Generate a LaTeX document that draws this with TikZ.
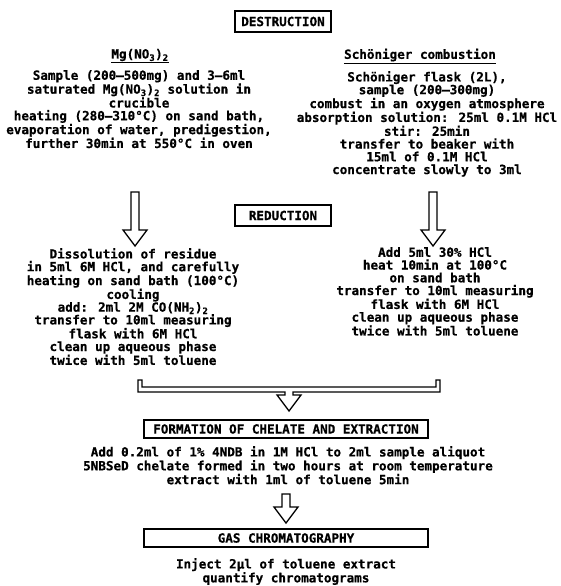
\documentclass[tikz,border=0pt]{standalone}
\usepackage{fontspec}
\newfontfamily\reffont[BoldFeatures={FakeBold=0.6}]{DejaVu Sans Mono}
\usetikzlibrary{calc}
\tikzset{
  txt/.style={font=\reffont\bfseries\fontsize{12.6}{12.75}\selectfont, align=center, inner sep=0pt},
  titlebox/.style={txt, draw, line width=1.5pt, minimum width=96pt, minimum height=21pt},
  widebox/.style={txt, draw, line width=1.3pt, minimum width=284pt, minimum height=18pt},
  blockarrow/.style={draw, line width=1.3pt, line join=miter, fill=white},
  uline/.style={line width=1.1pt},
}
\newcommand\blockarrowdown[4]{%
  \draw[blockarrow] ($(#1)+(-#3,0)$) -- ($(#1)+(#3,0)$) -- ($(#2)+(#3,-16)$) -- ($(#2)+(#4,-16)$) -- (#2) -- ($(#2)+(-#4,-16)$) -- ($(#2)+(-#3,-16)$) -- cycle;}
\begin{document}
\begin{tikzpicture}[x=1pt,y=-1pt]
\useasboundingbox[fill=white] (0,0) rectangle (560,586);

\node[titlebox] (destr) at (283,21.5) {DESTRUCTION};

\node[txt] (hmg) at (140,55) {Mg(NO\textsubscript{3})\textsubscript{2}};
\draw[uline] ($(hmg.south west)+(0,1.5)$) -- ($(hmg.south east)+(0,1.5)$);
\node[txt] (hsch) at (420,55) {Schöniger combustion};
\draw[uline] ($(hsch.south west)+(0,2)$) -- ($(hsch.south east)+(0,2)$);

\node[txt, anchor=north] (l1) at (139,70) {Sample (200–500mg) and 3–6ml\\
saturated Mg(NO\textsubscript{3})\textsubscript{2} solution in\\
crucible\\
heating (280–310°C) on sand bath,\\
evaporation of water, predigestion,\\
further 30min at 550°C in oven};

\node[txt, anchor=north] (r1) at (427,71) {Schöniger flask (2L),\\
sample (200–300mg)\\
combust in an oxygen atmosphere\\
absorption solution: 25ml 0.1M HCl\\
stir: 25min\\
transfer to beaker with\\
15ml of 0.1M HCl\\
concentrate slowly to 3ml};

\coordinate (aLtop) at (135,192);
\coordinate (aLtip) at (135,246);
\coordinate (aRtop) at (433,192);
\coordinate (aRtip) at (433,246);
\blockarrowdown{aLtop}{aLtip}{4}{12}
\blockarrowdown{aRtop}{aRtip}{4}{12}

\node[titlebox] (red) at (283,215.5) {REDUCTION};

\node[txt, anchor=north] (l2) at (133,248) {Dissolution of residue\\
in 5ml 6M HCl, and carefully\\
heating on sand bath (100°C)\\
cooling\\
add: 2ml 2M CO(NH\textsubscript{2})\textsubscript{2}\\
transfer to 10ml measuring\\
flask with 6M HCl\\
clean up aqueous phase\\
twice with 5ml toluene};

\node[txt, anchor=north] (r2) at (435,247) {Add 5ml 30\% HCl\\
heat 10min at 100°C\\
on sand bath\\
transfer to 10ml measuring\\
flask with 6M HCl\\
clean up aqueous phase\\
twice with 5ml toluene};

% collecting bracket with arrow
\coordinate (brL) at (138,380);
\coordinate (brR) at (440,380);
\coordinate (brTip) at (289,411);
\draw[blockarrow] (brL) -- ++(0,12) -- (285,392) -- (285,395) -- (277,395) -- (brTip) -- (301,395) -- (293,395) -- (293,392) -- ($(brR)+(0,12)$) -- (brR) -- ++(-4,0) -- ++(0,7) -- (142,387) -- (142,380) -- cycle;

\node[widebox] (form) at (286,429) {FORMATION OF CHELATE AND EXTRACTION};

\node[txt, anchor=north] (ftext) at (288,446) {Add 0.2ml of 1\% 4NDB in 1M HCl to 2ml sample aliquot\\
5NBSeD chelate formed in two hours at room temperature\\
extract with 1ml of toluene 5min};

\coordinate (a3top) at (286,494);
\coordinate (a3tip) at (286,523);
\blockarrowdown{a3top}{a3tip}{4}{12}

\node[widebox] (gas) at (286,538) {GAS CHROMATOGRAPHY};

\node[txt, anchor=north] (gtext) at (286,558) {Inject 2µl of toluene extract\\
quantify chromatograms};
\end{tikzpicture}
\end{document}
